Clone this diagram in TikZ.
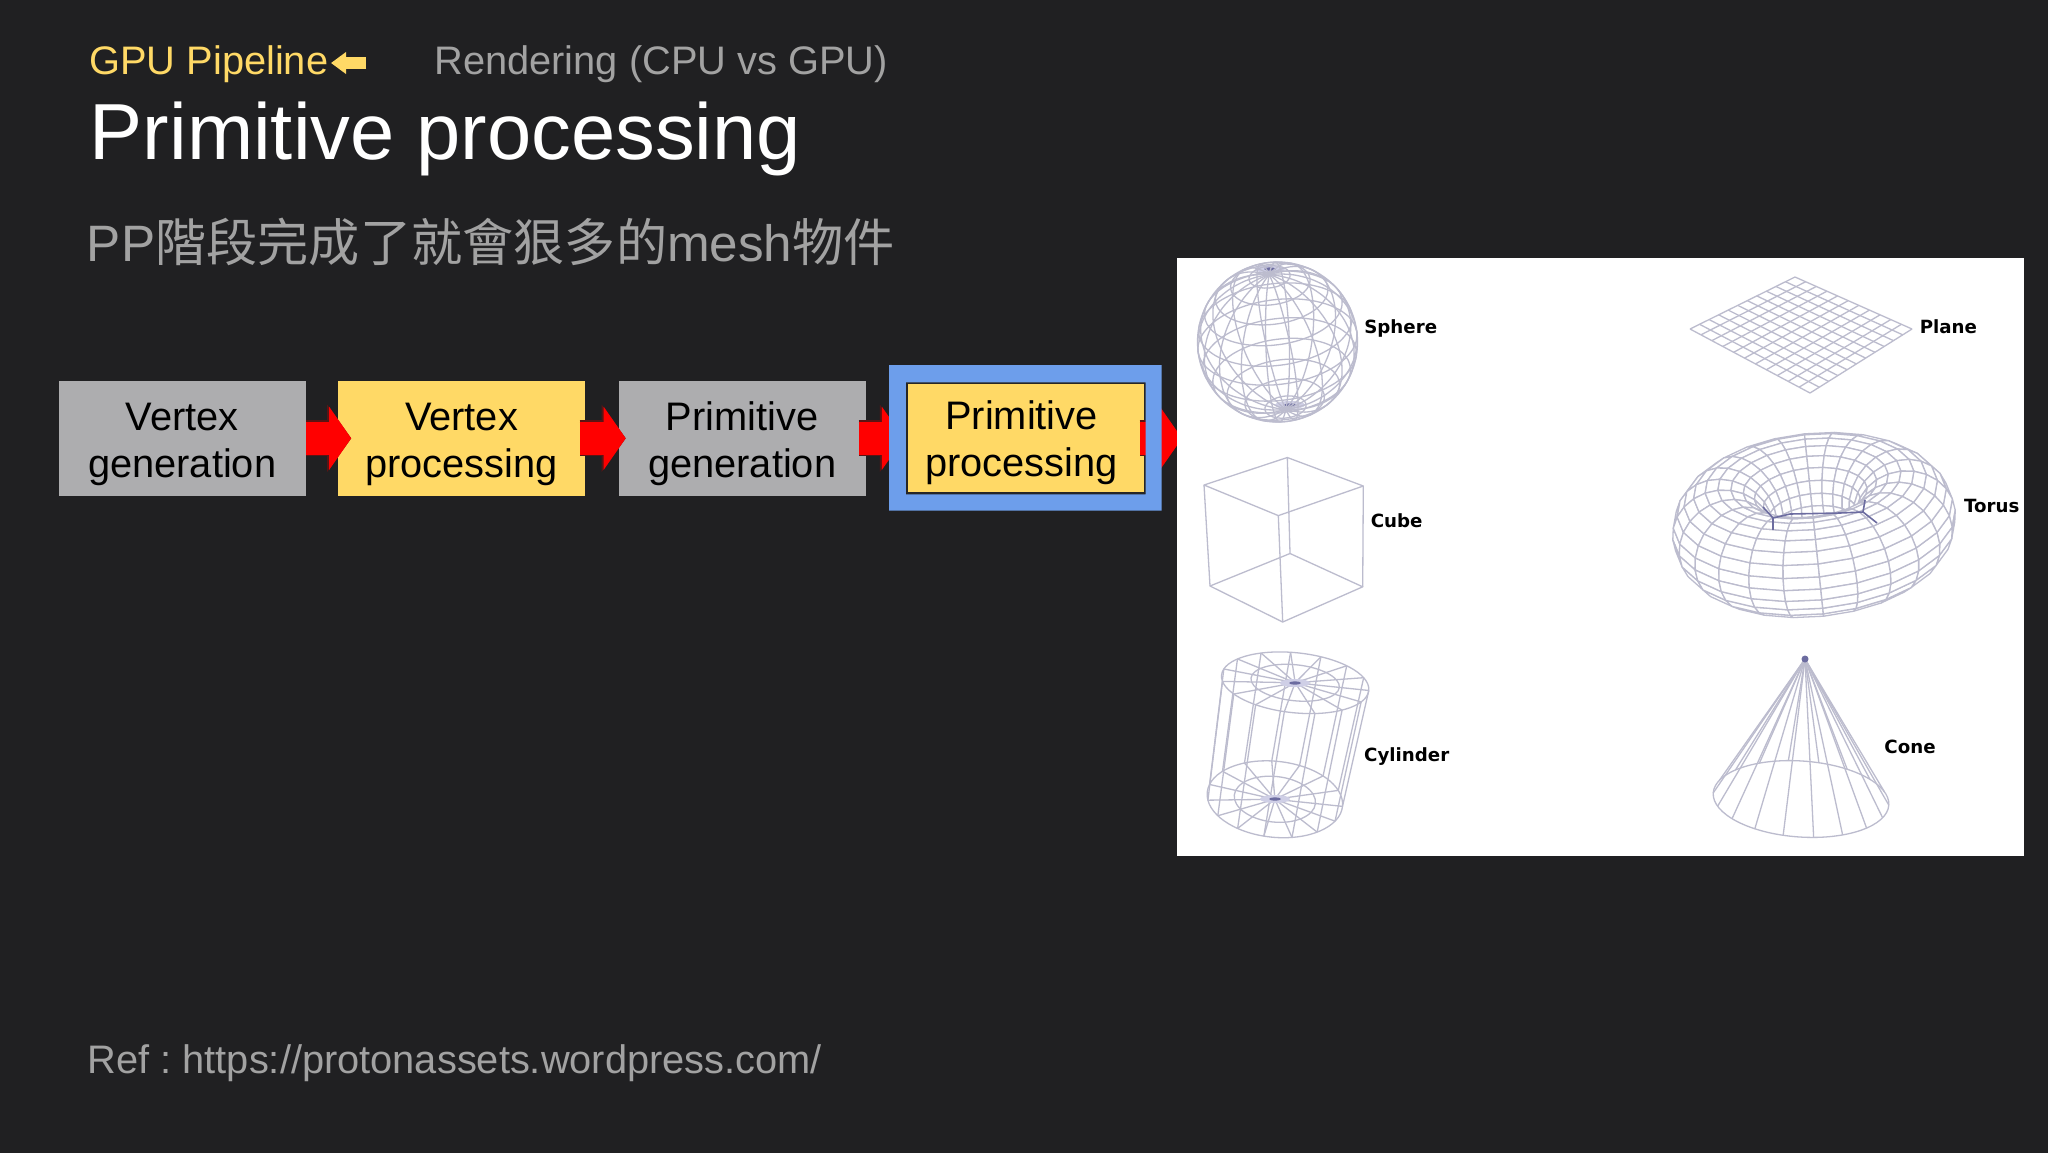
\documentclass[tikz,border=0pt]{standalone}
\usepackage{fontspec}
\setmainfont{Liberation Sans}
\newfontfamily\cjk{Noto Sans CJK TC}
\newfontfamily\wirefont{DejaVu Sans}
\usepackage{tikz,pgf}
\usetikzlibrary{arrows.meta}
\usetikzlibrary{calc}

\definecolor{slidebg}{HTML}{202022}
\definecolor{slidegray}{HTML}{A2A2A2}
\definecolor{slideyellow}{HTML}{FFD966}
\definecolor{boxgray}{HTML}{ADADAF}
\definecolor{framebl}{HTML}{6D9EEB}
\definecolor{edgered}{HTML}{5A1414}
\definecolor{wirecol}{HTML}{BCBCCE}
\definecolor{wiredark}{HTML}{6C6CA0}
\definecolor{wirehaze}{HTML}{CFCFE6}

\tikzset{
  slidetext/.style={anchor=base west,inner sep=0pt},
  headtext/.style={slidetext,font=\fontsize{19.9pt}{23.5pt}\selectfont},
  stagebox/.style={rectangle,inner sep=0pt,text=black,align=center,
    font=\fontsize{19.9pt}{23.5pt}\selectfont,minimum width=123.5pt,minimum height=57.6pt},
  flowedge/.style={edgered,line width=18pt,-{Triangle[length=12pt,width=33pt]}},
  flowfill/.style={red,line width=16.2pt,-{Triangle[length=11pt,width=31pt]}},
  wire/.style={draw=wirecol,line width=0.65pt},
  wirelabel/.style={inner sep=0pt,text=black,font=\wirefont\bfseries\fontsize{9.1pt}{10pt}\selectfont},
}

\newcommand{\flowlink}[2]{
  \draw[flowedge] #1 -- #2;
  \draw[flowfill] #1 -- #2;
}
\newcommand{\hubspot}[1]{
  \fill[wirehaze] #1 ellipse [x radius=15,y radius=4];
  \fill[wiredark] #1 ellipse [x radius=6,y radius=1.6];
}
\newcommand{\toptail}{\rule{0pt}{19.5pt}}

\begin{document}
\begin{tikzpicture}[line join=round,x=0.5pt,y=-0.5pt,
    declare function={
      torx(\ua,\va)=1814+(92+50*cos(\va))*cos(\ua);
      tory(\ua,\va)=525-(92+50*cos(\va))*sin(\ua)*0.454-50*sin(\va)*0.891;
      torvis(\ua,\va)=sin(\va)*0.454-cos(\va)*sin(\ua)*0.891;
    }]
  \useasboundingbox (0,0) rectangle (2048,1152);
  \fill[slidebg] (-6,-6) rectangle (2054,1158);

  % headings
  \node[headtext,text=slideyellow] (gpu) at (89,74) {GPU Pipeline};
  \coordinate (gputail) at (366,63);
  \coordinate (gputip) at (331,63);
  \draw[slideyellow,line width=6pt,-{Triangle[length=7.5pt,width=10.5pt]}] (gputail) -- (gputip);
  \node[headtext,text=slidegray] (rendering) at (434,74) {Rendering (CPU vs GPU)};
  \node[slidetext,text=white,font=\fontsize{39.75pt}{44pt}\selectfont] (title) at (89.5,159) {Primitive processing};
  \node[slidetext,text=slidegray,font=\fontsize{25.6pt}{30pt}\selectfont] (subtitle) at (86.5,261)
    {PP{\cjk 階段完成了就會狠多的}mesh{\cjk 物件}};
  \node[headtext,text=slidegray] (ref) at (87.5,1073) {Ref : \kern-2pt https://protonassets.wordpress.com/};

  % pipeline
  \node[stagebox,fill=boxgray] (vg) at (182.2,438.3) {\toptail Vertex\\generation};
  \node[stagebox,fill=slideyellow] (vp) at (461.6,438.3) {\toptail Vertex\\processing};
  \node[stagebox,fill=boxgray] (pg) at (742.2,438.3) {\toptail Primitive\\generation};
  \node[rectangle,draw=black!85,line width=1pt,fill=slideyellow,minimum width=118.8pt,minimum height=55pt] (pp) at (1025.7,438.3) {};
  \node[stagebox,minimum width=0pt,minimum height=0pt] (pptext) at (1021.5,442.3) {Primitive\\processing};

  \coordinate (picin) at (1182,438.3);
  \flowlink{(vg.east)}{($(vp.west)+(13.5,0)$)}
  \flowlink{($(vp.east)+(-6,0)$)}{($(pg.west)+(7.4,0)$)}
  \flowlink{($(pg.east)+(-7.4,0)$)}{($(pp.west)+(-2,0)$)}
  \flowlink{($(pp.east)+(-6,0)$)}{(picin)}

  \fill[framebl,even odd rule] (889,365) rectangle (1161.6,510.7) (pp.north west) rectangle (pp.south east);

  % picture of the primitives
  \fill[white] (1177,258) rectangle (2024,856);

  % sphere
  \hubspot{(1290,405)}
  \hubspot{(1270,269)}
  \begin{scope}[shift={(1277.5,342)},rotate=7]
    \draw[wire] (0,0) circle (80);
    \foreach \lat in {-75,-60,...,75}
      \draw[wire] plot[smooth,domain=0:360,samples=31,variable=\t]
        ({80*cos(\lat)*cos(\t)},{-80*(sin(\lat)*cos(32)-cos(\lat)*sin(\t)*sin(32))});
    \foreach \lon in {0,20,...,160}
      \draw[wire] plot[smooth,domain=0:360,samples=31,variable=\t]
        ({80*cos(\t)*cos(\lon)},{-80*(sin(\t)*cos(32)-cos(\t)*sin(\lon)*sin(32))});
  \end{scope}
  \node[wirelabel] (sphere) at (1400.7,328) {Sphere};

  % cube
  \draw[wire] (1287.3,457.5) -- (1204,485) -- (1278.3,515.6) -- (1363.3,486) -- cycle;
  \draw[wire] (1290,553.5) -- (1210,586) -- (1282.7,622) -- (1362.7,586.8) -- cycle;
  \draw[wire] (1287.3,457.5) -- (1290,553.5);
  \draw[wire] (1204,485) -- (1210,586);
  \draw[wire] (1278.3,515.6) -- (1282.7,622);
  \draw[wire] (1363.3,486) -- (1362.7,586.8);
  \node[wirelabel] (cube) at (1396.7,520.7) {Cube};

  % cylinder
  \begin{scope}[rotate around={-6:(1285,741)}]
    \foreach \f in {0.6,1} {
      \draw[wire] (1289,682) ellipse [x radius=74*\f,y radius=30*\f];
      \draw[wire] (1281,800) ellipse [x radius=68*\f,y radius=38*\f];
    }
    \foreach \a in {0,24,...,336} {
      \draw[wire] ({1289+74*cos(\a)},{682+30*sin(\a)}) -- ({1281+68*cos(\a)},{800+38*sin(\a)});
      \draw[wire] (1289,682) -- ({1289+74*cos(\a)},{682+30*sin(\a)});
      \draw[wire] (1281,800) -- ({1281+68*cos(\a)},{800+38*sin(\a)});
    }
  \end{scope}
  \hubspot{(1295,683)}
  \hubspot{(1275,799)}
  \node[wirelabel] (cylinder) at (1406.7,756.5) {Cylinder};

  % plane
  \coordinate (pla) at (1795,277);
  \coordinate (plb) at (1912,329);
  \coordinate (plc) at (1810,393);
  \coordinate (pld) at (1690,329);
  \foreach \i in {0,...,11} {
    \draw[wire] ($(pla)!\i/11!(plb)$) -- ($(pld)!\i/11!(plc)$);
    \draw[wire] ($(pla)!\i/11!(pld)$) -- ($(plb)!\i/11!(plc)$);
  }
  \node[wirelabel] (plane) at (1948.3,327) {Plane};

  % torus, far patches first
  \begin{scope}[rotate around={6:(1814,525)}]
    \foreach \d in {0,15,...,165} \foreach \s in {0,1} {
      \pgfmathsetmacro{\ua}{\s==0?90+\d:75-\d}
      \foreach \va in {0,15,...,345} {
        \pgfmathtruncatemacro{\showp}{torvis(\ua+7.5,\va+7.5)>0?1:0}
        \ifnum\showp=1
          \filldraw[wire,fill=white] ({torx(\ua,\va)},{tory(\ua,\va)})
            -- ({torx(\ua+15,\va)},{tory(\ua+15,\va)})
            -- ({torx(\ua+15,\va+15)},{tory(\ua+15,\va+15)})
            -- ({torx(\ua,\va+15)},{tory(\ua,\va+15)}) -- cycle;
        \fi
      }
    }
  \end{scope}
  \draw[wiredark,line width=0.8pt] (1763,507) -- (1773,518) -- (1790,514) -- (1840,513) -- (1863,512) -- (1877,523);
  \draw[wiredark,line width=0.8pt] (1773,518) -- (1773,530);
  \draw[wiredark,line width=0.8pt] (1863,512) -- (1865,500);
  \node[wirelabel] (torus) at (1991.7,506) {Torus};

  % cone
  \coordinate (apex) at (1805,659);
  \begin{scope}[rotate around={-4:(1801,799)}]
    \draw[wire] (1801,799) ellipse [x radius=88,y radius=38];
    \foreach \a in {0,20,...,340}
      \draw[wire] (apex) -- ({1801+88*cos(\a)},{799+38*sin(\a)});
  \end{scope}
  \fill[wiredark] (apex) circle (3.5);
  \node[wirelabel] (cone) at (1910,747) {Cone};
\end{tikzpicture}
\end{document}
